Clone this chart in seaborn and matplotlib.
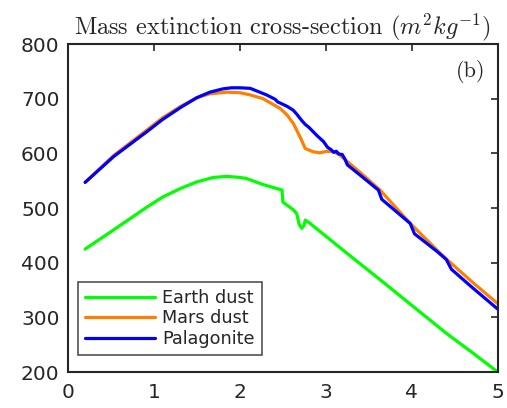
import matplotlib
matplotlib.use("Agg")
import matplotlib.pyplot as plt
import seaborn as sns
import pandas as pd

# ---- data ----
earth_x = [0.2, 0.53, 0.92, 1.1, 1.31, 1.5, 1.69, 1.85, 2.0, 2.08, 2.27, 2.49, 2.50, 2.55,
           2.62, 2.66, 2.69, 2.72, 2.745, 2.76, 2.80, 3.2, 3.63, 4.0, 4.40, 4.7, 5.0]
earth_y = [425, 460, 502, 520, 536, 548, 556, 558, 556, 554, 543, 533, 511, 505,
           497, 490, 470, 463, 468, 478, 474, 423, 369, 322, 271, 236, 200]

mars_x = [0.2, 0.53, 0.92, 1.1, 1.31, 1.5, 1.65, 1.85, 2.0, 2.12, 2.27, 2.47, 2.55, 2.62,
          2.70, 2.76, 2.85, 2.93, 3.01, 3.09, 3.16, 3.40, 3.63, 3.98, 4.30, 4.40, 4.70, 5.0]
mars_y = [547, 596, 643, 665, 686, 702, 709, 712, 711, 707, 700, 682, 670, 655,
          630, 609, 603, 601, 604, 603, 597, 565, 533, 472, 422, 407, 365, 325]

pal_x = [0.2, 0.53, 0.92, 1.1, 1.31, 1.5, 1.65, 1.8, 1.9, 2.0, 2.12, 2.31, 2.41, 2.44, 2.47,
         2.55, 2.62, 2.66, 2.72, 2.76, 2.80, 2.85, 2.90, 2.97, 3.02, 3.06, 3.09, 3.12,
         3.15, 3.19, 3.22, 3.25, 3.40, 3.61, 3.65, 3.98, 4.03, 4.29, 4.40, 4.46, 4.70, 5.0]
pal_y = [547, 594, 640, 662, 684, 702, 712, 718, 720, 720, 719, 707, 699, 694, 692,
         686, 679, 672, 660, 653, 648, 640, 632, 622, 611, 607, 602, 604,
         599, 598, 590, 579, 560, 533, 516, 472, 453, 421, 406, 388, 355, 315]

labels = ["Earth dust", "Mars dust", "Palagonite"]
colors = ["#00ff00", "#ff8000", "#0000ff"]

title = r"Mass extinction cross-section $(m^2kg^{-1})$"
x_ticks = [0, 1, 2, 3, 4, 5]
y_ticks = [200, 300, 400, 500, 600, 700, 800]

df = pd.concat([
    pd.DataFrame({"x": earth_x, "y": earth_y, "series": labels[0]}),
    pd.DataFrame({"x": mars_x, "y": mars_y, "series": labels[1]}),
    pd.DataFrame({"x": pal_x, "y": pal_y, "series": labels[2]}),
], ignore_index=True)

sns.set_style("white")
plt.rcParams["font.family"] = ["DejaVu Sans"]
plt.rcParams["mathtext.fontset"] = "cm"

fig = plt.figure(figsize=(5.07, 4.08), dpi=100)
ax = fig.add_axes([0.134, 0.088, 0.848, 0.804])

sns.lineplot(data=df, x="x", y="y", hue="series", hue_order=labels,
             palette=dict(zip(labels, colors)), linewidth=2.3,
             estimator=None, sort=False, ax=ax)

ax.set_xlim(0, 5)
ax.set_ylim(200, 800)
ax.set_xticks(x_ticks)
ax.set_yticks(y_ticks)
ax.set_xlabel("")
ax.set_ylabel("")
ax.tick_params(direction="in", length=5, width=1.2, labelsize=14.5,
               colors="#262626", top=True, right=True, pad=6)
ax.tick_params(axis="x", pad=8)
for s in ax.spines.values():
    s.set_color("#262626")
    s.set_linewidth(1.5)

ax.set_title(title, fontsize=17.5, fontfamily="cmr10", pad=7)
ax.text(0.97, 0.915, "(b)", transform=ax.transAxes, ha="right", va="center",
        fontsize=16, fontfamily="cmr10")

leg = ax.legend(loc="lower left", bbox_to_anchor=(0.023, 0.052), borderaxespad=0,
                fontsize=12.7, frameon=True, fancybox=False, edgecolor="#262626",
                handlelength=4.0, handletextpad=0.4, borderpad=0.4,
                labelspacing=0.15)
leg.get_frame().set_linewidth(1.2)
for line in leg.get_lines():
    line.set_linewidth(2.3)

fig.savefig("out.png", dpi=100)
